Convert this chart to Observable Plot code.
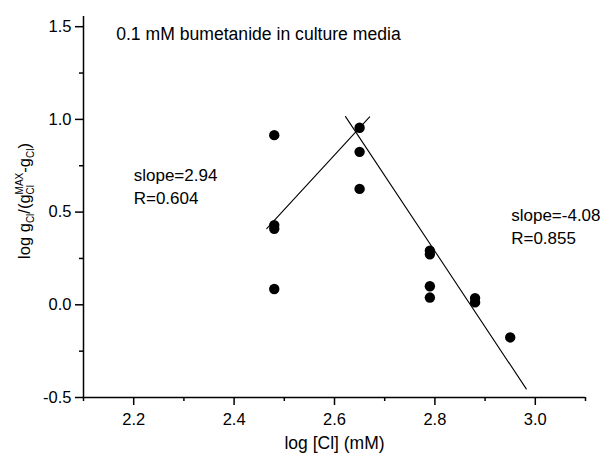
<!DOCTYPE html>
<html>
<head>
<meta charset="utf-8">
<script src="https://cdn.jsdelivr.net/npm/d3@7"></script>
<script src="https://cdn.jsdelivr.net/npm/@observablehq/plot@0.6"></script>
<style>
  html, body { margin: 0; padding: 0; background: #fff; }
</style>
</head>
<body>
<script>
// Measured points: log [Cl] (mM) vs log gCl/(gCl^MAX - gCl)
const logCl = [2.48, 2.48, 2.48, 2.48, 2.65, 2.65, 2.65, 2.79, 2.79, 2.79, 2.79, 2.88, 2.88, 2.95];
const logRatio = [0.915, 0.43, 0.41, 0.085, 0.955, 0.825, 0.625, 0.292, 0.272, 0.10, 0.039, 0.036, 0.013, -0.176];

// Linear fits (slope from the annotations, intercept and extent of each fitted segment)
const fitSlopes = [2.94, -4.08];
const fitIntercepts = [-6.836, 11.713];
const fitRanges = [[2.465, 2.67], [2.622, 2.982]];
const fitLabels = ["slope=2.94\nR=0.604", "slope=-4.08\nR=0.855"];

// Axis ticks
const xTicks = [2.2, 2.4, 2.6, 2.8, 3.0];
const xMinorTicks = [2.1, 2.3, 2.5, 2.7, 2.9, 3.1];
const yTicks = [-0.5, 0.0, 0.5, 1.0, 1.5];
const yMinorTicks = [-0.25, 0.25, 0.75, 1.25];

const titleText = "0.1 mM bumetanide in culture media";
const xLabel = "log [Cl] (mM)";

const points = logCl.map((x, i) => ({x, y: logRatio[i]}));
const fits = fitSlopes.map((b, k) =>
  fitRanges[k].map(x => ({x, y: fitIntercepts[k] + b * x, k}))
).flat();

const font = "'Liberation Sans', Arial, Helvetica, sans-serif";

const chart = Plot.plot({
  width: 612,
  height: 458,
  marginLeft: 83,
  marginRight: 27,
  marginTop: 16,
  marginBottom: 61,
  x: {domain: [2.1, 3.1], label: null},
  y: {domain: [-0.5, 1.555], label: null},
  style: {fontFamily: font, fontSize: "16px", color: "black", background: "white", overflow: "visible"},
  marks: [
    // axis lines
    Plot.ruleX([2.1], {stroke: "black", strokeWidth: 1.5}),
    Plot.ruleY([-0.5], {stroke: "black", strokeWidth: 1.5}),
    // minor ticks
    Plot.axisX({ticks: xMinorTicks, tickSize: 4, tickFormat: () => "", label: null, strokeWidth: 1.5}),
    Plot.axisY({ticks: yMinorTicks, tickSize: 4, tickFormat: () => "", label: null, strokeWidth: 1.5}),
    // major ticks with labels
    Plot.axisX({ticks: xTicks, tickSize: 8, tickPadding: 8, tickFormat: d => d.toFixed(1), label: null, strokeWidth: 1.5, fontSize: 16.5}),
    Plot.axisY({ticks: yTicks, tickSize: 8, tickPadding: 4, tickFormat: d => d.toFixed(1), label: null, strokeWidth: 1.5, fontSize: 16.5}),
    // fitted lines
    Plot.line(fits, {x: "x", y: "y", z: "k", stroke: "black", strokeWidth: 1.1}),
    // data points
    Plot.dot(points, {x: "x", y: "y", r: 5.2, fill: "black", stroke: null}),
    // annotations
    Plot.text([titleText], {x: 2.165, y: 1.43, text: d => d, textAnchor: "start", lineAnchor: "bottom", fontSize: 17.6, fill: "black"}),
    Plot.text([fitLabels[0]], {x: 2.2, y: 0.545, text: d => d, textAnchor: "start", lineAnchor: "bottom", lineHeight: 1.35, fontSize: 17, fill: "black"}),
    Plot.text([fitLabels[1]], {x: 2.952, y: 0.33, text: d => d, textAnchor: "start", lineAnchor: "bottom", lineHeight: 1.35, fontSize: 17, fill: "black"}),
    Plot.text([xLabel], {frameAnchor: "bottom", dy: 51, text: d => d, lineAnchor: "bottom", fontSize: 17.5, fill: "black"})
  ]
});

document.body.appendChild(chart);

// Y axis title with sub- and superscripts: log gCl/(gCl^MAX - gCl)
const svg = d3.select(chart);
const ylab = svg.append("text")
  .attr("transform", "translate(30,201) rotate(-90)")
  .attr("text-anchor", "middle")
  .attr("font-family", font)
  .attr("font-size", 16.5)
  .attr("fill", "black");
ylab.append("tspan").text("log g");
ylab.append("tspan").attr("font-size", 10).attr("dy", 4).text("Cl");
ylab.append("tspan").attr("dy", -4).text("/(g");
const sup = ylab.append("tspan").attr("font-size", 10).attr("dy", -7).text("MAX");
const supW = sup.node().getComputedTextLength();
const sub = ylab.append("tspan").attr("font-size", 10).attr("dx", -supW).attr("dy", 11).text("Cl");
const subW = sub.node().getComputedTextLength();
ylab.append("tspan").attr("dx", supW - subW).attr("dy", -4).text("-g");
ylab.append("tspan").attr("font-size", 10).attr("dy", 4).text("Cl");
ylab.append("tspan").attr("dy", -4).text(")");
</script>
</body>
</html>
